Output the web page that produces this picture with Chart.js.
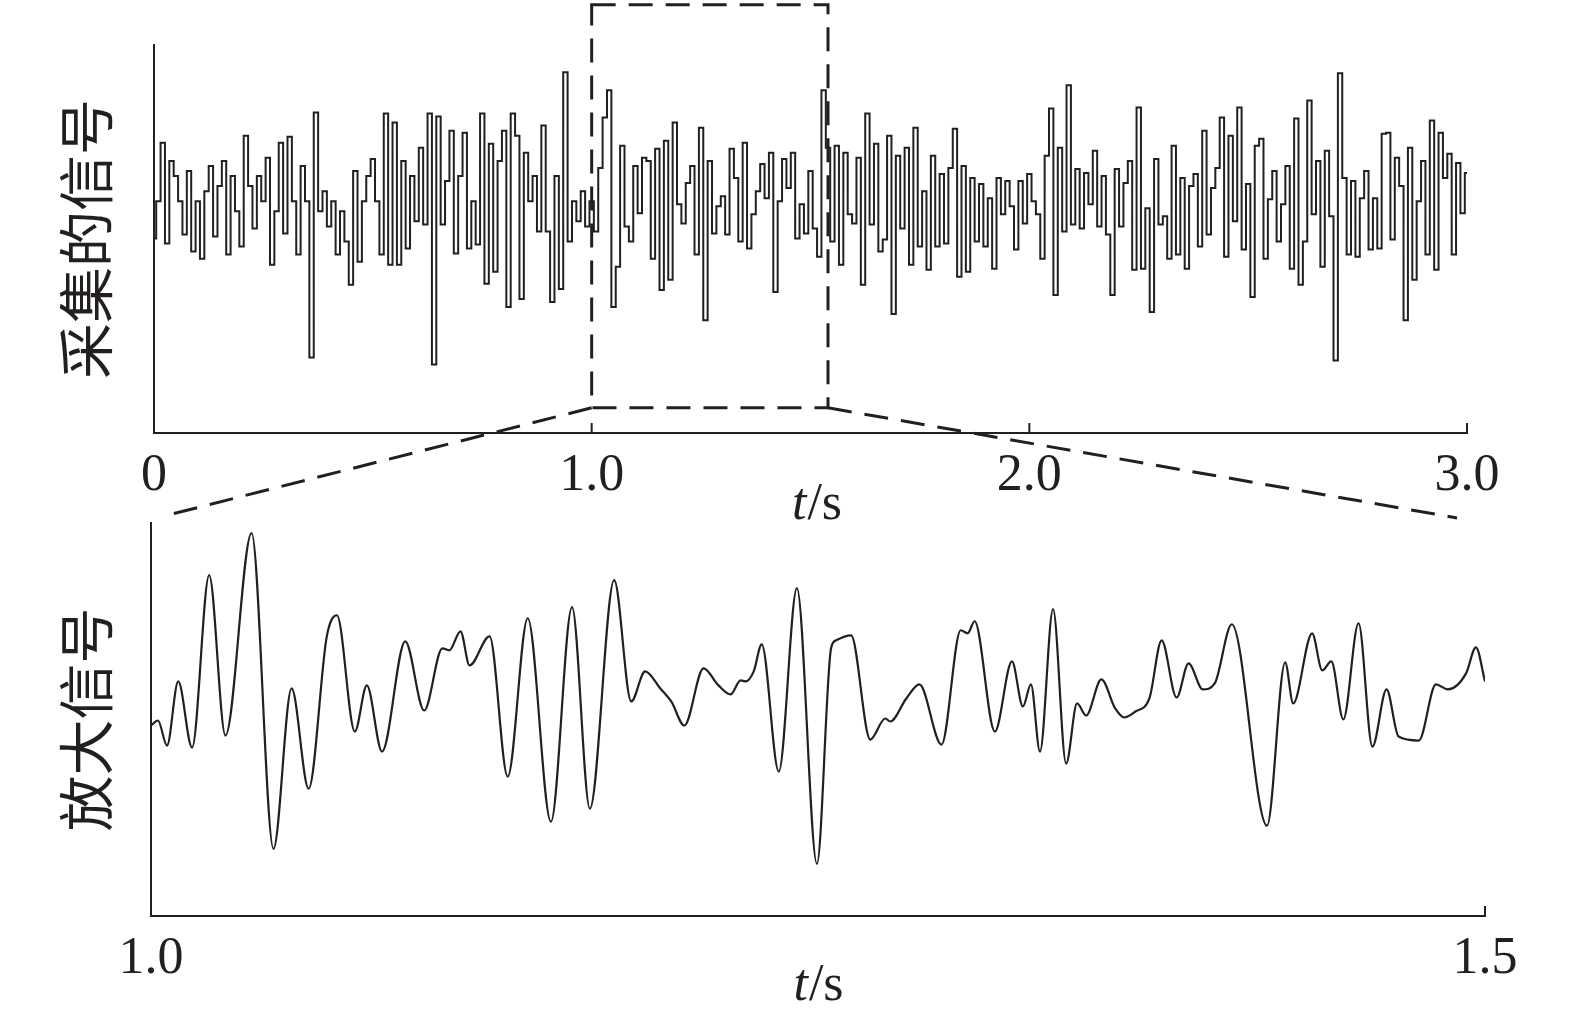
<!DOCTYPE html>
<html>
<head>
<meta charset="utf-8">
<script src="https://cdn.jsdelivr.net/npm/chart.js@4.4.1/dist/chart.umd.min.js"></script>
<style>
  html, body { margin: 0; padding: 0; background: #fff; overflow: hidden; }
  #wrap { position: relative; width: 1575px; height: 1028px; }
  canvas { position: absolute; left: 0; top: 0; }
</style>
</head>
<body>
<div id="wrap">
  <canvas id="raw" width="1575" height="1028"></canvas>
  <canvas id="zoom" width="1575" height="1028"></canvas>
</div>
<script>
// ---- data ----

// collected signal, one sample every 0.01 s from 0 to 3.0 s
const rawStep = 0.01;
const rawValues = [
  -0.32, 0.05, 0.63, -0.37, 0.45, 0.30, 0.05, -0.28, 0.35, -0.45,
  0.05, -0.52, 0.15, 0.40, -0.30, 0.20, 0.45, -0.48, 0.30, -0.05,
  -0.40, 0.70, 0.20, -0.22, 0.30, 0.05, 0.48, -0.58, -0.05, 0.63,
  -0.27, 0.69, 0.05, -0.48, 0.40, 0.05, -1.50, 0.93, -0.05, 0.15,
  -0.20, 0.05, -0.48, -0.05, -0.35, -0.78, 0.35, -0.55, 0.05, 0.30,
  0.47, 0.05, -0.48, 0.92, -0.58, 0.83, -0.58, 0.45, -0.42, 0.30,
  -0.15, 0.58, -0.18, 0.92, -1.57, 0.89, -0.18, 0.25, 0.75, -0.47,
  0.30, 0.73, -0.42, 0.05, -0.38, 0.92, -0.77, 0.62, -0.65, 0.45,
  0.75, -1.00, 0.92, 0.70, -0.92, 0.53, 0.05, 0.30, -0.25, 0.80,
  -0.25, -0.95, 0.30, -0.82, 1.33, -0.35, 0.05, -0.15, 0.15, -0.20,
  0.05, -0.25, 0.38, 0.88, 1.15, -1.00, -0.60, 0.60, -0.20, -0.35,
  0.40, -0.07, 0.48, 0.45, -0.52, 0.57, -0.83, 0.65, -0.73, 0.83,
  0.02, -0.17, 0.23, 0.40, -0.48, 0.78, -1.13, 0.45, -0.27, 0.00,
  0.10, -0.28, 0.57, 0.28, -0.35, 0.63, -0.42, -0.08, 0.15, 0.42,
  0.08, 0.53, -0.85, 0.05, 0.47, 0.18, 0.53, -0.32, 0.02, -0.27,
  0.35, -0.22, -0.50, 1.15, 0.58, -0.35, 0.60, -0.58, 0.53, -0.08,
  -0.17, 0.48, -0.78, 0.92, -0.18, 0.62, -0.45, -0.33, 0.70, -1.07,
  0.50, -0.22, 0.58, -0.58, 0.78, -0.40, 0.15, -0.63, 0.50, -0.40,
  0.32, -0.37, 0.38, 0.77, -0.70, 0.40, -0.65, 0.28, -0.35, 0.22,
  -0.40, 0.08, -0.62, 0.28, -0.08, 0.25, 0.00, -0.43, 0.25, -0.17,
  0.32, 0.05, -0.08, -0.52, 0.50, 0.97, -0.88, 0.58, -0.25, 1.20,
  -0.18, 0.37, -0.22, 0.33, 0.02, 0.55, -0.20, 0.30, -0.28, -0.88,
  0.37, -0.20, 0.23, 0.45, -0.63, 0.98, -0.62, -0.02, -1.05, 0.47,
  -0.18, -0.10, -0.52, 0.60, -0.48, 0.28, -0.62, 0.20, 0.32, -0.40,
  0.75, -0.28, 0.18, 0.38, 0.88, -0.50, 0.70, -0.15, 0.98, -0.43,
  0.22, -0.90, 0.60, 0.67, -0.52, 0.07, 0.35, -0.35, 0.02, 0.40,
  -0.62, 0.87, -0.78, -0.35, 1.05, -0.08, 0.45, -0.60, 0.55, -0.10,
  -1.53, 1.32, 0.28, -0.48, 0.25, -0.50, 0.08, 0.35, -0.43, 0.08,
  -0.42, 0.72, 0.73, -0.33, 0.48, 0.20, -1.13, 0.58, -0.73, 0.05,
  0.45, -0.48, 0.85, -0.63, 0.73, 0.28, 0.52, -0.48, 0.43, -0.07,
  0.33
];
const rawTicks = [0, 1.0, 2.0, 3.0];
const rawTickLabels = ['0', '1.0', '2.0', '3.0'];

// amplified signal between 1.0 and 1.5 s (turning points)
const zoomTimes = [
  1.0000, 1.0026, 1.0060, 1.0102, 1.0154, 1.0218, 1.0279, 1.0377, 1.0459, 1.0527,
  1.0591, 1.0659, 1.0697, 1.0764, 1.0809, 1.0866, 1.0953, 1.1024, 1.1092, 1.1118,
  1.1160, 1.1194, 1.1269, 1.1337, 1.1412, 1.1499, 1.1578, 1.1645, 1.1736, 1.1800,
  1.1852, 1.1909, 1.1950, 1.1999, 1.2071, 1.2127, 1.2172, 1.2210, 1.2229, 1.2259,
  1.2289, 1.2353, 1.2421, 1.2496, 1.2549, 1.2568, 1.2624, 1.2696, 1.2752, 1.2771,
  1.2831, 1.2880, 1.2963, 1.3035, 1.3061, 1.3087, 1.3163, 1.3227, 1.3268, 1.3298,
  1.3332, 1.3381, 1.3430, 1.3471, 1.3505, 1.3562, 1.3614, 1.3648, 1.3690, 1.3742,
  1.3788, 1.3844, 1.3889, 1.3942, 1.3987, 1.4051, 1.4183, 1.4251, 1.4281, 1.4352,
  1.4390, 1.4424, 1.4469, 1.4526, 1.4578, 1.4631, 1.4676, 1.4752, 1.4816, 1.4861,
  1.4929, 1.4966, 1.5000
];
const zoomValues = [
  -0.12, -0.07, -0.32, 0.32, -0.34, 1.38, -0.22, 1.80, -1.35, 0.25,
  -0.75, 0.77, 0.98, -0.18, 0.28, -0.38, 0.72, 0.03, 0.65, 0.63,
  0.82, 0.48, 0.77, -0.63, 0.95, -1.08, 1.06, -0.95, 1.33, 0.12,
  0.42, 0.25, 0.12, -0.12, 0.45, 0.28, 0.19, 0.33, 0.32, 0.42,
  0.69, -0.58, 1.25, -1.50, 0.65, 0.73, 0.78, -0.26, -0.05, -0.08,
  0.15, 0.29, -0.31, 0.83, 0.80, 0.92, -0.18, 0.52, 0.07, 0.29,
  -0.38, 1.04, -0.50, 0.10, -0.02, 0.34, 0.05, -0.04, 0.02, 0.15,
  0.73, 0.16, 0.50, 0.24, 0.30, 0.89, -1.12, 0.51, 0.10, 0.80,
  0.43, 0.52, -0.06, 0.90, -0.33, 0.24, -0.23, -0.27, 0.29, 0.24,
  0.40, 0.66, 0.32
];
const zoomTicks = [1.0, 1.5];
const zoomTickLabels = ['1.0', '1.5'];

// time span marked by the dashed box on the upper plot
const zoomWindow = [1.0, 1.54];

const rawTitle = '采集的信号';
const zoomTitle = '放大信号';
const xUnit = ['t', '/s'];

// ---- look ----
const W = 1575, H = 1028;
const ink = '#231f20';
const serif = '"Liberation Serif", "Times New Roman", serif';
const cjk = '"Noto Sans CJK SC", "Noto Sans CJK JP", sans-serif';
const tickSize = 52;
const titleSize = 56;
const xAxisH = 100;

// inward ticks, the t/s unit label and the dashed zoom marks
const decor = {
  id: 'decor',
  afterDraw(chart, args, o) {
    const {ctx, chartArea: a, scales: {x, y}} = chart;
    ctx.save();
    ctx.strokeStyle = ink;
    ctx.lineWidth = 2;
    o.innerTicks.forEach(v => {
      const px = x.getPixelForValue(v);
      ctx.beginPath();
      ctx.moveTo(px, a.bottom);
      ctx.lineTo(px, a.bottom - 10);
      ctx.stroke();
    });

    const it = 'italic ' + tickSize + 'px ' + serif;
    const up = tickSize + 'px ' + serif;
    ctx.fillStyle = ink;
    ctx.textBaseline = 'alphabetic';
    ctx.font = it;
    const w1 = ctx.measureText(xUnit[0]).width;
    ctx.font = up;
    const w2 = ctx.measureText(xUnit[1]).width;
    const ux = (a.left + a.right) / 2 + o.unitDx - (w1 + w2) / 2;
    const uy = a.bottom + o.unitDy;
    ctx.font = it;
    ctx.fillText(xUnit[0], ux, uy);
    ctx.font = up;
    ctx.fillText(xUnit[1], ux + w1 + 1, uy);

    ctx.setLineDash([24, 13]);
    ctx.lineWidth = 3;
    if (o.box) {
      const x0 = x.getPixelForValue(zoomWindow[0]);
      const x1 = x.getPixelForValue(zoomWindow[1]);
      const y0 = y.getPixelForValue(o.box[1]);
      const y1 = y.getPixelForValue(o.box[0]);
      ctx.strokeRect(x0, y0, x1 - x0, y1 - y0);
    }
    if (o.link) {
      const tx = rawChart.scales.x, ty = rawChart.scales.y;
      const by = ty.getPixelForValue(o.link.boxBottom);
      [[zoomWindow[0], o.link.left], [zoomWindow[1], o.link.right]].forEach(([t, end]) => {
        ctx.beginPath();
        ctx.moveTo(tx.getPixelForValue(t), by);
        ctx.lineTo(x.getPixelForValue(end[0]), y.getPixelForValue(end[1]));
        ctx.stroke();
      });
    }
    ctx.restore();
  }
};

function makeChart(id, c) {
  return new Chart(document.getElementById(id), {
    type: 'line',
    data: {
      datasets: [{
        data: c.points,
        borderColor: ink,
        borderWidth: c.lineWidth,
        pointRadius: 0,
        fill: false,
        tension: 0,
        stepped: c.stepped || false,
        cubicInterpolationMode: c.smooth ? 'monotone' : 'default'
      }]
    },
    options: {
      responsive: false,
      animation: false,
      events: [],
      layout: {
        padding: {left: 0, top: c.area.top, right: W - c.area.right, bottom: H - c.area.bottom - xAxisH}
      },
      plugins: {
        legend: {display: false},
        tooltip: {enabled: false},
        decor: c.decor
      },
      scales: {
        x: {
          type: 'linear',
          min: c.xRange[0],
          max: c.xRange[1],
          grid: {display: false, drawTicks: false},
          border: {display: true, color: ink, width: 2},
          afterBuildTicks: s => { s.ticks = c.ticks.map(v => ({value: v})); },
          afterFit: s => { s.height = xAxisH; },
          ticks: {
            autoSkip: false,
            maxRotation: 0,
            padding: 12,
            color: ink,
            font: {family: serif, size: tickSize},
            callback: (v, i) => c.tickLabels[i]
          }
        },
        y: {
          min: c.yRange[0],
          max: c.yRange[1],
          grid: {display: false, drawTicks: false},
          border: {display: true, color: ink, width: 2},
          ticks: {display: false},
          afterFit: s => { s.width = c.area.left; },
          title: {
            display: true,
            text: c.title,
            color: ink,
            font: {family: cjk, size: titleSize},
            padding: {top: 52, bottom: 0}
          }
        }
      }
    },
    plugins: [decor]
  });
}

const rawChart = makeChart('raw', {
  points: rawValues.map((v, i) => ({x: i * rawStep, y: v})),
  lineWidth: 2,
  stepped: 'middle',
  smooth: false,
  area: {left: 154, top: 45, right: 1467, bottom: 433},
  xRange: [0, 3.0],
  yRange: [-2.25, 1.6],
  ticks: rawTicks,
  tickLabels: rawTickLabels,
  title: rawTitle,
  decor: {innerTicks: rawTicks.slice(1), unitDx: 6, unitDy: 86, box: [-2.0, 2.0]}
});

const zoomChart = makeChart('zoom', {
  points: zoomValues.map((v, i) => ({x: zoomTimes[i], y: v})),
  lineWidth: 2.2,
  smooth: true,
  area: {left: 151, top: 523, right: 1485, bottom: 916},
  xRange: [1.0, 1.5],
  yRange: [-2.02, 1.9],
  ticks: zoomTicks,
  tickLabels: zoomTickLabels,
  title: zoomTitle,
  decor: {
    innerTicks: zoomTicks.slice(1), unitDx: 0, unitDy: 84,
    link: {boxBottom: -2.0, left: [1.005, 1.97], right: [1.4895, 1.95]}
  }
});
</script>
</body>
</html>
